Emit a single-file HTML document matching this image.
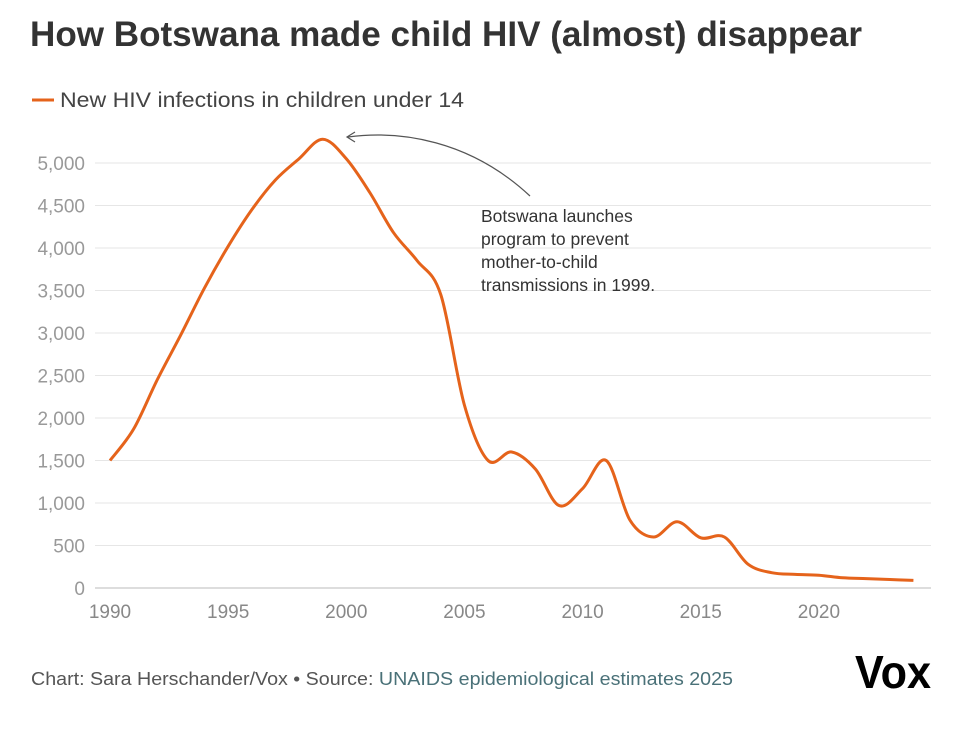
<!DOCTYPE html>
<html><head><meta charset="utf-8"><style>
body{margin:0;background:#fff;width:953px;height:728px;overflow:hidden;font-family:"Liberation Sans",sans-serif;}
svg text{font-family:"Liberation Sans",sans-serif;}
</style></head><body>
<svg id="chart" width="953" height="728" xmlns="http://www.w3.org/2000/svg">
<text x="30" y="46" font-size="35" font-weight="bold" fill="#333" textLength="832" lengthAdjust="spacingAndGlyphs">How Botswana made child HIV (almost) disappear</text>
<g>
<line x1="32" y1="100" x2="54" y2="100" stroke="#e5631b" stroke-width="3"/>
<text x="60" y="107" font-size="21" fill="#444" textLength="404" lengthAdjust="spacingAndGlyphs">New HIV infections in children under 14</text>
</g>
<g id="grid"></g>
<g id="yticks"></g>
<g id="xticks"></g>
<path id="line" fill="none" stroke="#e5631b" stroke-width="3" stroke-linejoin="round"/>
<g>
<path d="M530,196 C470,140 400,130 348,137" fill="none" stroke="#555" stroke-width="1.2"/>
<path d="M355,132 L347,137 L355,142" fill="none" stroke="#555" stroke-width="1.2"/>
<text x="481" y="222" font-size="17.5" fill="#333">Botswana launches</text>
<text x="481" y="245" font-size="17.5" fill="#333">program to prevent</text>
<text x="481" y="268" font-size="17.5" fill="#333">mother-to-child</text>
<text x="481" y="291" font-size="17.5" fill="#333">transmissions in 1999.</text>
</g>
<text x="31" y="685" font-size="18" fill="#555" textLength="702" lengthAdjust="spacingAndGlyphs">Chart: Sara Herschander/Vox • Source: <tspan fill="#4a7178">UNAIDS epidemiological estimates 2025</tspan></text>
<text x="855" y="688" font-family="Liberation Serif,serif" font-size="46" font-weight="bold" fill="#000" textLength="76" lengthAdjust="spacingAndGlyphs">Vox</text>
</svg>
<script>
const years=[1990,1991,1992,1993,1994,1995,1996,1997,1998,1999,2000,2001,2002,2003,2004,2005,2006,2007,2008,2009,2010,2011,2012,2013,2014,2015,2016,2017,2018,2019,2020,2021,2022,2023,2024];
const infections=[1500,1870,2450,2980,3530,4020,4450,4800,5050,5280,5050,4650,4180,3850,3450,2150,1500,1600,1400,970,1170,1500,800,600,780,590,600,280,180,160,150,120,110,100,90];
const yTicks=[0,500,1000,1500,2000,2500,3000,3500,4000,4500,5000];
const xTicks=[1990,1995,2000,2005,2010,2015,2020];
const NS="http://www.w3.org/2000/svg";
const xS=y=>110+(y-1990)*23.63;
const yS=v=>588-v*0.085;
const grid=document.getElementById('grid'),yt=document.getElementById('yticks'),xt=document.getElementById('xticks');
yTicks.forEach(t=>{
 const l=document.createElementNS(NS,'line');
 
 
 l.setAttribute('x1',95);l.setAttribute('x2',931);l.setAttribute('y1',yS(t));l.setAttribute('y2',yS(t));
 l.setAttribute('stroke',t===0?'#ddd':'#e6e6e6');l.setAttribute('stroke-width',t===0?2:1);
 grid.appendChild(l);
 const tx=document.createElementNS(NS,'text');
 
 
 tx.setAttribute('x',85);tx.setAttribute('y',yS(t)+7);tx.setAttribute('text-anchor','end');
 tx.setAttribute('font-size',19);tx.setAttribute('fill','#999');tx.textContent=t.toLocaleString('en-US');
 yt.appendChild(tx);
});
xTicks.forEach(t=>{
 const tx=document.createElementNS(NS,'text');
 
 
 tx.setAttribute('x',xS(t));tx.setAttribute('y',618);tx.setAttribute('text-anchor','middle');
 tx.setAttribute('font-size',19);tx.setAttribute('fill','#888');tx.textContent=t;
 xt.appendChild(tx);
});
const pts=years.map((y,i)=>[xS(y),yS(infections[i])]);
let d='M'+pts[0][0]+','+pts[0][1];
for(let i=0;i<pts.length-1;i++){
 const p0=pts[Math.max(0,i-1)],p1=pts[i],p2=pts[i+1],p3=pts[Math.min(pts.length-1,i+2)];
 const c1=[p1[0]+(p2[0]-p0[0])/6,p1[1]+(p2[1]-p0[1])/6];
 const c2=[p2[0]-(p3[0]-p1[0])/6,p2[1]-(p3[1]-p1[1])/6];
 d+=` C${c1[0]},${c1[1]} ${c2[0]},${c2[1]} ${p2[0]},${p2[1]}`;
}
document.getElementById('line').setAttribute('d',d);
</script>
</body></html>
